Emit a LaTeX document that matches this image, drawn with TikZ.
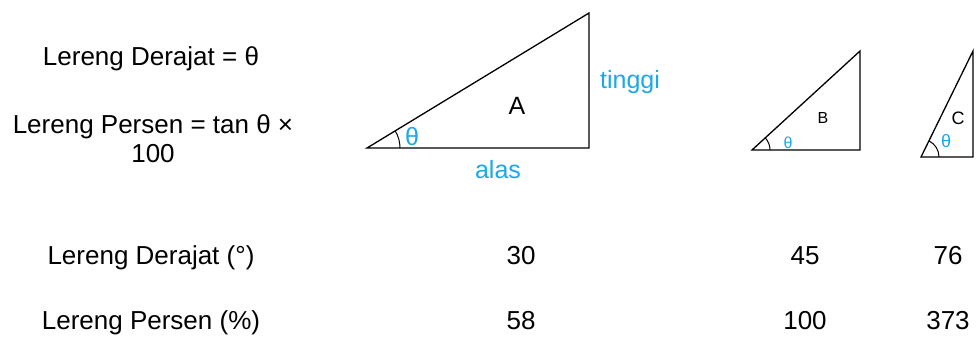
\documentclass[tikz,border=0pt]{standalone}
\usepackage{fontspec}
\setmainfont{Liberation Sans}
\definecolor{tcyan}{HTML}{1BA8E8}
\tikzset{
  lbl/.style={inner sep=0pt, anchor=base, font=\fontsize{26}{30}\selectfont},
  clbl/.style={inner sep=0pt, anchor=base, text=tcyan},
  tri/.style={draw=black, line width=1.3pt, line join=miter},
  ang/.style={draw=black, line width=1pt},
}
\begin{document}
\begin{tikzpicture}[x=1pt,y=-1pt]
\useasboundingbox (0,0) rectangle (979,338);
% left text
\node[lbl] (f1) at (151,65.5) {Lereng Derajat = θ};
\node[lbl] (f2) at (153,133) {Lereng Persen = tan θ ×};
\node[lbl] (f3) at (153,162) {100};
\node[lbl] (r1) at (151,264) {Lereng Derajat (°)};
\node[lbl] (r2) at (151,329) {Lereng Persen (\%)};
% values
\node[lbl] (a1) at (521,264) {30};
\node[lbl] (a2) at (521,329) {58};
\node[lbl] (b1) at (805,264) {45};
\node[lbl] (b2) at (805,329) {100};
\node[lbl] (c1) at (948,264) {76};
\node[lbl] (c2) at (948,329) {373};
% triangle A
\coordinate (A1) at (367,148);
\coordinate (A2) at (589,148);
\coordinate (A3) at (589,13);
\draw[tri] (A1) -- (A2) -- (A3) -- cycle;
\draw[ang] ([xshift=33pt]A1) arc[start angle=0, end angle=31.3, radius=33pt];
\node[clbl, font=\fontsize{25}{30}\selectfont] (thA) at (412,145) {θ};
\node[inner sep=0pt, anchor=base, font=\fontsize{25}{30}\selectfont] (lA) at (517,114) {A};
\node[clbl, font=\fontsize{25}{30}\selectfont] (tg) at (630,88) {tinggi};
\node[clbl, font=\fontsize{25}{30}\selectfont] (al) at (498,178) {alas};
% triangle B
\coordinate (B1) at (752,150);
\coordinate (B2) at (860,150);
\coordinate (B3) at (860,51);
\draw[tri] (B1) -- (B2) -- (B3) -- cycle;
\draw[ang] ([xshift=18pt]B1) arc[start angle=0, end angle=42.5, radius=18pt];
\node[clbl, font=\fontsize{16}{20}\selectfont] (thB) at (788,148) {θ};
\node[inner sep=0pt, anchor=base, font=\fontsize{16}{20}\selectfont] (lB) at (823,123) {B};
% triangle C
\coordinate (C1) at (921,157);
\coordinate (C2) at (973,157);
\coordinate (C3) at (973,51);
\draw[tri] (C1) -- (C2) -- (C3) -- cycle;
\draw[ang] ([xshift=18pt]C1) arc[start angle=0, end angle=63.9, radius=18pt];
\node[clbl, font=\fontsize{18}{20}\selectfont] (thC) at (946,147) {θ};
\node[inner sep=0pt, anchor=base, font=\fontsize{18}{20}\selectfont] (lC) at (958,124) {C};
\end{tikzpicture}
\end{document}
